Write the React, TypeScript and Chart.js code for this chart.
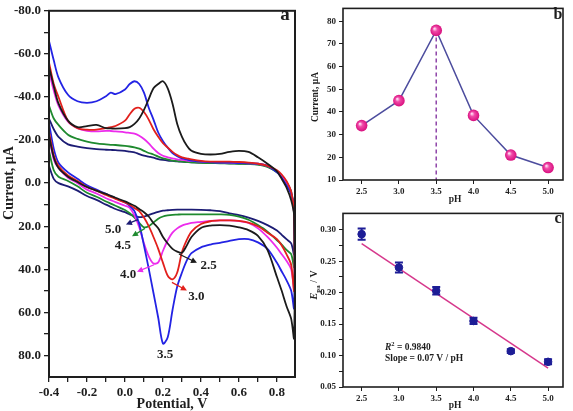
import React, { useEffect, useRef } from "react";
import { Chart, registerables } from "chart.js";

Chart.register(...registerables);

const SERIF = '"Liberation Serif", "Times New Roman", serif';
const INK = "#1e1e1e";

// ---------- Panel a: cyclic voltammograms recorded at different pH ----------
// Potential grid (V) shared by every scan; each scan has a forward (upper) and reverse (lower) branch.
const potential = [
  -0.4, -0.375, -0.35, -0.3, -0.25, -0.2, -0.15, -0.1, -0.075, -0.05, 0, 0.025, 0.05, 0.075, 0.1, 0.125,
  0.15, 0.175, 0.2, 0.225, 0.25, 0.275, 0.3, 0.325, 0.35, 0.4, 0.45, 0.5, 0.55, 0.6, 0.65, 0.7,
  0.75, 0.8, 0.825, 0.85, 0.875, 0.89,
];

// Current (µA) along the upper branch
const upper25 = [-54, -45, -37, -29, -26, -26.5, -27, -25.5, -25.4, -25.3, -25.5, -26, -27.5, -30, -34, -39, -44, -46, -47.3, -44, -37, -27.5, -21.5, -17.5, -15, -13.6, -13.3, -13.6, -14.5, -15, -14.5, -12, -9, -5.5, -2, 2, 8, 15];
const upper30 = [-56, -46, -40, -29, -25.5, -24.8, -24.8, -25.5, -26, -26.5, -29, -32, -34.5, -35, -33, -29.5, -25, -21.5, -18.5, -16.5, -14.5, -13, -12, -11.5, -11, -10.3, -10, -10, -10, -9.8, -9.5, -9, -8, -6, -4, -1, 4, 14];
const upper35 = [-66, -57, -49, -41, -38, -37.3, -38, -40.3, -42, -41.3, -43.5, -46, -47.3, -46, -42, -35, -29.5, -23.5, -19.5, -16.5, -14, -12.5, -11.5, -11, -10.5, -10, -9.7, -9.5, -9.5, -9.3, -9.2, -9, -8, -5, -2.5, 1, 5, 12];
const upper40 = [-52, -43, -36, -28.5, -25.5, -24.3, -24, -24.3, -24.2, -24, -23.6, -23.3, -23, -22, -20.5, -18.5, -16, -14, -12.7, -12, -11.5, -11, -10.8, -10.5, -10.3, -10, -9.8, -9.6, -9.5, -9.4, -9.2, -9, -8, -5.5, -3, 0, 5, 14];
const upper45 = [-36, -30, -27, -22.5, -20.5, -19.3, -18.5, -18, -17.8, -17.7, -17.3, -17, -16.6, -16, -15, -14, -13.3, -12.3, -11.5, -11, -10.5, -10.2, -10, -9.8, -9.6, -9.4, -9.3, -9.2, -9.1, -9, -8.9, -8.6, -7.5, -5, -3, 0, 5, 14];
const upper50 = [-30, -25, -21.5, -18, -17, -16.3, -15.8, -15.5, -15.4, -15.3, -15, -14.6, -14.3, -13.5, -12.8, -12.3, -11.8, -11.2, -10.8, -10.5, -10.3, -10.1, -10, -9.8, -9.7, -9.5, -9.4, -9.3, -9.2, -9.1, -9, -8.7, -7.8, -5.5, -3.5, -0.5, 4, 12];

// Current (µA) along the lower branch
const lower25 = [-22, -12, -7, -3, -0.5, 1.8, 3.5, 5, 5.9, 6.8, 8.5, 9.5, 10.5, 12, 13.5, 15.5, 18.5, 21, 25, 28, 30.5, 31.8, 32.3, 29, 25, 20.8, 19.7, 19.5, 19.7, 20.5, 21.8, 24.5, 31, 43.6, 50, 57, 63, 72];
const lower30 = [-24, -13, -8, -3.6, -1, 1.8, 3.5, 5.5, 6.4, 7.3, 9, 10, 11.5, 13, 16, 20, 25, 30.5, 37, 43, 44.7, 41.5, 32, 26.5, 22.5, 19, 17.7, 17.3, 17.3, 17.5, 18.3, 20, 23, 26, 29, 33, 38, 50];
const lower35 = [-28, -16, -9.5, -5, -2, 1, 3, 5, 6, 7, 9, 10.5, 13, 19, 29, 39.7, 51, 62.5, 74.5, 71.5, 59, 48, 41.5, 36, 32.5, 29.8, 28.5, 27.7, 26.8, 26, 26, 27.5, 30.5, 37, 41, 45, 50, 58];
const lower40 = [-22, -11, -7, -2.5, 0, 3, 4.8, 7, 7.9, 8.8, 10.5, 11.5, 15, 20.5, 28, 34, 37.3, 36.8, 31.4, 26.5, 23, 21, 19.7, 19, 18.5, 18, 17.5, 17.3, 17.3, 17.6, 18.5, 21, 25, 30, 33, 36, 40, 49];
const lower45 = [-15, -6, -3, -1, 1.5, 4.5, 6.3, 8.5, 9.5, 10.5, 12.5, 14, 16, 18.5, 20.5, 20, 18.3, 16.5, 15.5, 15, 14.7, 14.6, 14.5, 14.5, 14.5, 14.5, 14.5, 14.5, 14.7, 15.5, 17, 19.5, 22.5, 26.5, 28.5, 31, 33, 39];
const lower50 = [-8, -2, 0, 1.5, 3.5, 6, 7.8, 10, 11, 12, 13.5, 14.5, 15.3, 15.8, 15.5, 14.8, 14, 13.3, 12.8, 12.6, 12.4, 12.3, 12.3, 12.3, 12.3, 12.4, 12.6, 13, 14, 14.8, 16, 17.5, 19.5, 22, 24, 26, 28, 33];

const scanPh = ["2.5", "3.0", "3.5", "4.0", "4.5", "5.0"];
const scanUpper = [upper25, upper30, upper35, upper40, upper45, upper50];
const scanLower = [lower25, lower30, lower35, lower40, lower45, lower50];
const scanColors = ["#1b1b1b", "#e2201c", "#2323e4", "#ec2cec", "#1f8a2f", "#1c1c74"];

const potentialTicks = [-0.4, -0.3, -0.2, -0.1, 0, 0.1, 0.2, 0.3, 0.4, 0.5, 0.6, 0.7, 0.8];
const currentTicks = [-80, -70, -60, -50, -40, -30, -20, -10, 0, 10, 20, 30, 40, 50, 60, 70, 80];

// pH labels beside the reduction peaks (positions in axis units), with pointer arrows
const scanMarks = [
  { scan: 5, at: [-0.063, 21.5], tail: [0.068, 16.9], head: [0.005, 19.2] },
  { scan: 4, at: [-0.011, 28.8], tail: [0.105, 21.0], head: [0.037, 24.7] },
  { scan: 3, at: [0.016, 42.5], tail: [0.153, 37.9], head: [0.063, 41.1] },
  { scan: 0, at: [0.44, 38.4], tail: [0.284, 32.9], head: [0.379, 37.0] },
  { scan: 1, at: [0.376, 52.5], tail: [0.247, 46.1], head: [0.326, 49.8] },
  { scan: 2, at: [0.211, 79.5], tail: null, head: null },
];

// ---------- Panel b: peak current vs pH ----------
const phLevels = [2.5, 3.0, 3.5, 4.0, 4.5, 5.0];
const peakCurrent = [34, 45, 76, 38.5, 21, 15.5];
const currentAxisTicks = [10, 20, 30, 40, 50, 60, 70, 80];

// ---------- Panel c: peak potential vs pH ----------
const peakPotential = [0.293, 0.24, 0.203, 0.155, 0.107, 0.09];
const potentialError = [0.009, 0.008, 0.006, 0.005, 0.003, 0.004];
const fitPh = [2.5, 5.0];
const fitPotential = [0.278, 0.08];
const epaTicks = [0.05, 0.075, 0.1, 0.125, 0.15, 0.175, 0.2, 0.225, 0.25, 0.275, 0.3];
const fitR2 = "0.9840";
const fitSlope = "0.07";

const tickFont = (size: number) => ({ family: SERIF, size, weight: "bold" as const });
const fixedTicks = (values: number[]) => (scale: any) => {
  scale.ticks = values.map((value) => ({ value }));
};

type Part = { text: string; font: string; dy: number };
function drawParts(ctx: CanvasRenderingContext2D, parts: Part[], x: number, y: number, align: "left" | "center") {
  let total = 0;
  for (const p of parts) {
    ctx.font = p.font;
    total += ctx.measureText(p.text).width;
  }
  let cx = align === "center" ? x - total / 2 : x;
  ctx.textAlign = "left";
  for (const p of parts) {
    ctx.font = p.font;
    ctx.fillText(p.text, cx, y + p.dy);
    cx += ctx.measureText(p.text).width;
  }
}

function drawArrow(ctx: CanvasRenderingContext2D, x1: number, y1: number, x2: number, y2: number, color: string) {
  const ang = Math.atan2(y2 - y1, x2 - x1);
  const len = 6;
  const half = 3;
  ctx.strokeStyle = color;
  ctx.fillStyle = color;
  ctx.lineWidth = 1.3;
  ctx.beginPath();
  ctx.moveTo(x1, y1);
  ctx.lineTo(x2 - Math.cos(ang) * len * 0.6, y2 - Math.sin(ang) * len * 0.6);
  ctx.stroke();
  ctx.beginPath();
  ctx.moveTo(x2, y2);
  ctx.lineTo(x2 - Math.cos(ang) * len - Math.sin(ang) * half, y2 - Math.sin(ang) * len + Math.cos(ang) * half);
  ctx.lineTo(x2 - Math.cos(ang) * len + Math.sin(ang) * half, y2 - Math.sin(ang) * len - Math.cos(ang) * half);
  ctx.closePath();
  ctx.fill();
}

function frame(ctx: CanvasRenderingContext2D, a: any, width: number) {
  ctx.strokeStyle = INK;
  ctx.lineWidth = width;
  ctx.strokeRect(a.left, a.top, a.right - a.left, a.bottom - a.top);
}

function voltammogramConfig(): any {
  const overlay = {
    id: "cvOverlay",
    afterDraw(chart: any) {
      const { ctx, chartArea: a, scales } = chart;
      const xs = scales.x;
      const ys = scales.y;
      ctx.save();
      frame(ctx, a, 2);
      ctx.fillStyle = INK;
      ctx.textBaseline = "middle";
      ctx.textAlign = "center";
      ctx.font = `bold 14px ${SERIF}`;
      ctx.fillText("Potential, V", (a.left + a.right) / 2, 404);
      ctx.font = `bold 19px ${SERIF}`;
      ctx.fillText("a", a.right - 10, 15);
      for (const m of scanMarks) {
        const color = scanColors[m.scan];
        if (m.tail && m.head) {
          drawArrow(ctx, xs.getPixelForValue(m.tail[0]), ys.getPixelForValue(m.tail[1]),
            xs.getPixelForValue(m.head[0]), ys.getPixelForValue(m.head[1]), color);
        }
        ctx.fillStyle = INK;
        ctx.font = `bold 13px ${SERIF}`;
        ctx.textAlign = "center";
        ctx.textBaseline = "middle";
        ctx.fillText(scanPh[m.scan], xs.getPixelForValue(m.at[0]), ys.getPixelForValue(m.at[1]));
      }
      ctx.translate(9, 183);
      ctx.rotate(-Math.PI / 2);
      ctx.font = `bold 14px ${SERIF}`;
      ctx.fillStyle = INK;
      ctx.textAlign = "center";
      ctx.fillText("Current, μA", 0, 0);
      ctx.restore();
    },
  };

  const datasets = scanPh.map((ph, k) => ({
    label: `pH ${ph}`,
    data: [
      ...potential.map((x, i) => ({ x, y: scanUpper[k][i] })),
      ...potential.map((x, i) => ({ x, y: scanLower[k][i] })).reverse(),
    ],
    borderColor: scanColors[k],
    borderWidth: 1.8,
    pointRadius: 0,
    tension: 0.3,
    fill: false,
  }));

  return {
    type: "line",
    data: { datasets },
    options: {
      responsive: false,
      animation: false,
      devicePixelRatio: 1,
      layout: { padding: { top: 5, right: 5, left: 0, bottom: 0 } },
      plugins: { legend: { display: false }, tooltip: { enabled: false } },
      scales: {
        x: {
          type: "linear",
          min: -0.4,
          max: 0.895,
          afterBuildTicks: fixedTicks(potentialTicks),
          afterFit: (s: any) => { s.height = 34; },
          ticks: {
            autoSkip: false, maxRotation: 0, padding: 3, color: INK, font: tickFont(13),
            callback: (v: any, i: number) => (i % 2 === 0 ? Number(v).toFixed(1) : ""),
          },
          grid: { drawOnChartArea: false, tickLength: 5, color: INK, lineWidth: 1.3 },
          border: { display: false },
        },
        y: {
          type: "linear",
          reverse: true,
          min: -80,
          max: 90,
          afterBuildTicks: fixedTicks(currentTicks),
          afterFit: (s: any) => { s.width = 49; },
          ticks: {
            autoSkip: false, padding: 3, color: INK, font: tickFont(13),
            callback: (v: any, i: number) => (i % 2 === 0 ? Number(v).toFixed(1) : ""),
          },
          grid: { drawOnChartArea: false, tickLength: 5, color: INK, lineWidth: 1.3 },
          border: { display: false },
        },
      },
    },
    plugins: [overlay],
  };
}

function phScale(height: number) {
  return {
    type: "linear",
    min: 2.25,
    max: 5.2,
    afterBuildTicks: fixedTicks(phLevels),
    afterFit: (s: any) => { s.height = height; },
    ticks: {
      autoSkip: false, maxRotation: 0, padding: 2, color: INK, font: tickFont(9),
      callback: (v: any) => Number(v).toFixed(1),
    },
    grid: { drawOnChartArea: false, tickLength: 4, color: INK, lineWidth: 1 },
    border: { display: false },
  };
}

function peakCurrentConfig(): any {
  const top = peakCurrent.indexOf(Math.max(...peakCurrent));
  const overlay = {
    id: "currentOverlay",
    afterDatasetsDraw(chart: any) {
      const { ctx } = chart;
      const meta = chart.getDatasetMeta(1);
      ctx.save();
      for (const pt of meta.data) {
        const g = ctx.createRadialGradient(pt.x - 1.8, pt.y - 1.8, 0.5, pt.x, pt.y, 5.8);
        g.addColorStop(0, "#ffd6f0");
        g.addColorStop(0.35, "#f04aa8");
        g.addColorStop(1, "#d80f7e");
        ctx.fillStyle = g;
        ctx.beginPath();
        ctx.arc(pt.x, pt.y, 5.8, 0, Math.PI * 2);
        ctx.fill();
      }
      ctx.restore();
    },
    afterDraw(chart: any) {
      const { ctx, chartArea: a } = chart;
      ctx.save();
      frame(ctx, a, 1.6);
      ctx.fillStyle = INK;
      ctx.textAlign = "center";
      ctx.textBaseline = "middle";
      ctx.font = `bold 9.5px ${SERIF}`;
      ctx.fillText("pH", (a.left + a.right) / 2 + 2, 200);
      ctx.font = `bold 16px ${SERIF}`;
      ctx.fillText("b", a.right - 5, 15);
      ctx.translate(16, 97);
      ctx.rotate(-Math.PI / 2);
      ctx.font = `bold 9.5px ${SERIF}`;
      ctx.fillText("Current, μA", 0, 0);
      ctx.restore();
    },
  };
  return {
    type: "line",
    data: {
      datasets: [
        {
          label: "drop",
          data: [
            { x: phLevels[top], y: peakCurrent[top] },
            { x: phLevels[top], y: currentAxisTicks[0] },
          ],
          borderColor: "#8e44a8",
          borderWidth: 1.5,
          borderDash: [4, 3],
          pointRadius: 0,
        },
        {
          label: "Ipc",
          data: phLevels.map((x, i) => ({ x, y: peakCurrent[i] })),
          borderColor: "#4d4d9e",
          borderWidth: 1.5,
          pointRadius: 0,
          tension: 0,
        },
      ],
    },
    options: {
      responsive: false,
      animation: false,
      devicePixelRatio: 1,
      layout: { padding: { top: 4, right: 10, left: 0, bottom: 0 } },
      plugins: { legend: { display: false }, tooltip: { enabled: false } },
      scales: {
        x: phScale(25),
        y: {
          type: "linear",
          min: 10,
          max: 85.7,
          afterBuildTicks: fixedTicks(currentAxisTicks),
          afterFit: (s: any) => { s.width = 43; },
          ticks: { autoSkip: false, padding: 3, color: INK, font: tickFont(9), callback: (v: any) => String(v) },
          grid: { drawOnChartArea: false, tickLength: 4, color: INK, lineWidth: 1 },
          border: { display: false },
        },
      },
    },
    plugins: [overlay],
  };
}

function peakPotentialConfig(): any {
  const markColor = "#1d1d96";
  const overlay = {
    id: "potentialOverlay",
    afterDatasetsDraw(chart: any) {
      const { ctx, scales } = chart;
      const xs = scales.x;
      const ys = scales.y;
      ctx.save();
      ctx.strokeStyle = markColor;
      ctx.lineWidth = 2;
      phLevels.forEach((ph, i) => {
        const x = xs.getPixelForValue(ph);
        const y1 = ys.getPixelForValue(peakPotential[i] + potentialError[i]);
        const y2 = ys.getPixelForValue(peakPotential[i] - potentialError[i]);
        ctx.beginPath();
        ctx.moveTo(x, y1); ctx.lineTo(x, y2);
        ctx.moveTo(x - 4, y1); ctx.lineTo(x + 4, y1);
        ctx.moveTo(x - 4, y2); ctx.lineTo(x + 4, y2);
        ctx.stroke();
      });
      ctx.restore();
    },
    afterDraw(chart: any) {
      const { ctx, chartArea: a } = chart;
      ctx.save();
      frame(ctx, a, 1.6);
      ctx.fillStyle = INK;
      ctx.textAlign = "center";
      ctx.textBaseline = "middle";
      ctx.font = `bold 9.5px ${SERIF}`;
      ctx.fillText("pH", (a.left + a.right) / 2 + 2, 201);
      ctx.font = `bold 16px ${SERIF}`;
      ctx.fillText("c", a.right - 5, 14);
      ctx.textBaseline = "alphabetic";
      drawParts(ctx, [
        { text: "R", font: `italic bold 9.5px ${SERIF}`, dy: 0 },
        { text: "2", font: `bold 6.5px ${SERIF}`, dy: -4 },
        { text: " = " + fitR2, font: `bold 9.5px ${SERIF}`, dy: 0 },
      ], 85, 145, "left");
      drawParts(ctx, [
        { text: `Slope = ${fitSlope} V / pH`, font: `bold 9.5px ${SERIF}`, dy: 0 },
      ], 85, 156, "left");
      ctx.translate(17, 80);
      ctx.rotate(-Math.PI / 2);
      drawParts(ctx, [
        { text: "E", font: `italic bold 10.5px ${SERIF}`, dy: 0 },
        { text: "pa", font: `bold 7px ${SERIF}`, dy: 2.5 },
        { text: " / V", font: `bold 10px ${SERIF}`, dy: 0 },
      ], 0, 0, "center");
      ctx.restore();
    },
  };
  return {
    type: "line",
    data: {
      datasets: [
        {
          label: "Epa",
          data: phLevels.map((x, i) => ({ x, y: peakPotential[i] })),
          showLine: false,
          pointRadius: 3.8,
          pointBackgroundColor: markColor,
          pointBorderColor: markColor,
          pointBorderWidth: 1,
        },
        {
          label: "fit",
          data: fitPh.map((x, i) => ({ x, y: fitPotential[i] })),
          borderColor: "#d6388c",
          borderWidth: 1.5,
          pointRadius: 0,
        },
      ],
    },
    options: {
      responsive: false,
      animation: false,
      devicePixelRatio: 1,
      layout: { padding: { top: 4, right: 10, left: 0, bottom: 0 } },
      plugins: { legend: { display: false }, tooltip: { enabled: false } },
      scales: {
        x: phScale(24),
        y: {
          type: "linear",
          min: 0.05,
          max: 0.326,
          afterBuildTicks: fixedTicks(epaTicks),
          afterFit: (s: any) => { s.width = 43; },
          ticks: {
            autoSkip: false, padding: 3, color: INK, font: tickFont(9),
            callback: (v: any, i: number) => (i % 2 === 0 ? Number(v).toFixed(2) : ""),
          },
          grid: { drawOnChartArea: false, tickLength: 4, color: INK, lineWidth: 1 },
          border: { display: false },
        },
      },
    },
    plugins: [overlay],
  };
}

export default function App() {
  const refA = useRef<HTMLCanvasElement>(null);
  const refB = useRef<HTMLCanvasElement>(null);
  const refC = useRef<HTMLCanvasElement>(null);

  useEffect(() => {
    const charts = [
      new Chart(refA.current as HTMLCanvasElement, voltammogramConfig()),
      new Chart(refB.current as HTMLCanvasElement, peakCurrentConfig()),
      new Chart(refC.current as HTMLCanvasElement, peakPotentialConfig()),
    ];
    return () => charts.forEach((c) => c.destroy());
  }, []);

  return (
    <div style={{ position: "absolute", left: 0, top: 0, width: 573, height: 411, background: "#fff", overflow: "hidden" }}>
      <canvas ref={refA} width={300} height={411} style={{ position: "absolute", left: 0, top: 0 }} />
      <canvas ref={refB} width={273} height={205} style={{ position: "absolute", left: 300, top: 0 }} />
      <canvas ref={refC} width={273} height={206} style={{ position: "absolute", left: 300, top: 205 }} />
    </div>
  );
}
